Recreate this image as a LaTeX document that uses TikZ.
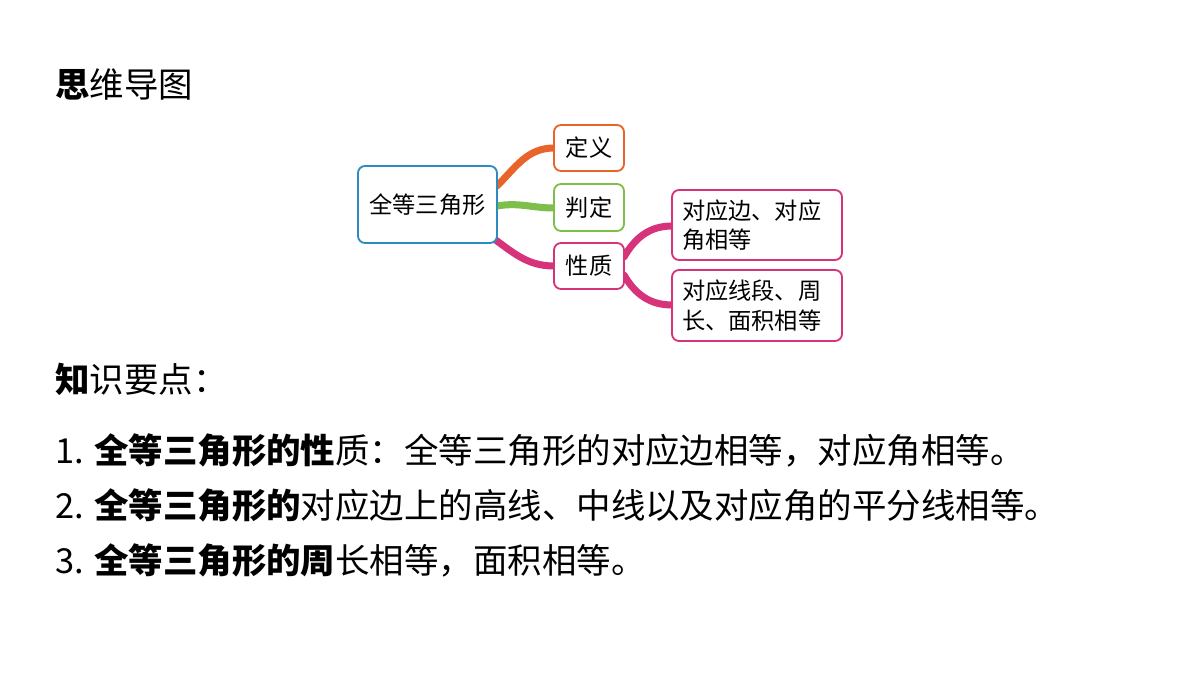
\documentclass[tikz,border=0pt]{standalone}
\usepackage{fontspec}
\setmainfont{Noto Sans CJK SC}
\newfontfamily\cjkbold[BoldFont={Noto Sans CJK SC Bold}]{Noto Sans CJK SC}
\definecolor{rootblue}{HTML}{2E8BC0}
\definecolor{deforange}{HTML}{E8642A}
\definecolor{judgegreen}{HTML}{7DBF4A}
\definecolor{propred}{HTML}{D6337A}
\begin{document}
\begin{tikzpicture}[x=0.025cm, y=-0.025cm]
\tikzstyle{mapbox}  = [rectangle, rounded corners=5pt, line width=1.3pt, fill=white, inner sep=0pt, align=left, font=\fontsize{16.5}{21}\selectfont]
\tikzstyle{branch}  = [line width=5pt, line cap=round]
\tikzstyle{bodyline} = [anchor=base west, inner sep=0pt, font=\fontsize{24.5}{28}\selectfont]
\useasboundingbox (0,0) rectangle (1200,675);
% headings
\node[bodyline] at (55,98) (title) {\textbf{思}维导图};
\node[bodyline] at (55,392) (points) {\textbf{知}识要点：};
% mind map branches
\coordinate (r_o) at (497,186);
\coordinate (r_g) at (497,206);
\coordinate (r_p) at (490,236);
\coordinate (p_a) at (624,257);
\coordinate (p_b) at (624,275);
\draw[branch, deforange] (r_o) to[out=45, in=180] (554,148) coordinate (c_def);
\draw[branch, judgegreen] (r_g) to[out=10, in=180] (554,208) coordinate (c_jud);
\draw[branch, propred] (r_p) to[out=-35, in=180] (554,266) coordinate (c_prop);
\draw[branch, propred] (p_a) to[out=60, in=180] (672,226) coordinate (c_a);
\draw[branch, propred] (p_b) to[out=-60, in=180] (672,305) coordinate (c_b);
% mind map nodes
\node[mapbox, draw=rootblue, minimum width=139*0.025cm, minimum height=77*0.025cm] at (427.5,204.5) (root) {全等三角形};
\node[mapbox, draw=deforange, minimum width=70*0.025cm, minimum height=46*0.025cm] at (589,148) (def) {定义};
\node[mapbox, draw=judgegreen, minimum width=70*0.025cm, minimum height=47*0.025cm] at (589,207.5) (judge) {判定};
\node[mapbox, draw=propred, minimum width=70*0.025cm, minimum height=46*0.025cm] at (589,266) (prop) {性质};
\node[mapbox, draw=propred, minimum width=170*0.025cm, minimum height=70*0.025cm, text width=150*0.025cm] at (757,225) (sideangle) {对应边、对应\\角相等};
\node[mapbox, draw=propred, minimum width=170*0.025cm, minimum height=71*0.025cm, text width=150*0.025cm] at (757,305.5) (perimeter) {对应线段、周\\长、面积相等};
% key points
\node[bodyline] at (55,463) (p1) {1. \textbf{全等三角形的性}质：全等三角形的对应边相等，对应角相等。};
\node[bodyline] at (55,518) (p2) {2. \textbf{全等三角形的}对应边上的高线、中线以及对应角的平分线相等。};
\node[bodyline] at (55,573) (p3) {3. \textbf{全等三角形的周}长相等，面积相等。};
\end{tikzpicture}
\end{document}
